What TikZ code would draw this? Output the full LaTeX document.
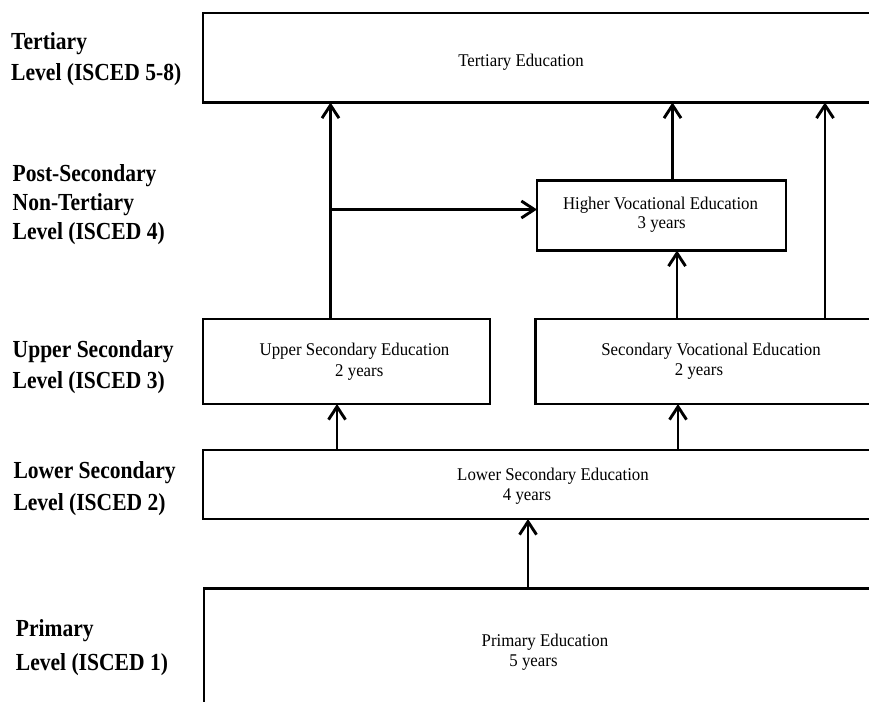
\documentclass[tikz,border=0pt]{standalone}
\usepackage{fontspec}
\setmainfont{Liberation Serif}
\newfontfamily\levelfont{Liberation Serif}[FakeStretch=0.88]
\newfontfamily\boxfont{Liberation Serif}[FakeStretch=0.94]
\usetikzlibrary{arrows.meta}
\begin{document}
\begin{tikzpicture}[x=1pt,y=-1pt,
  box/.style={draw, line width=2.9pt, rectangle, inner sep=0pt, outer sep=0pt},
  conn/.style={line width=2.9pt, -{Straight Barb[length=13pt,width=17pt,line width=2.9pt]}},
  lvl/.style={anchor=base west, inner sep=0pt, font=\levelfont\bfseries\fontsize{24.5}{28}\selectfont},
  txt/.style={anchor=base, inner sep=0pt, font=\boxfont\fontsize{17.9}{21}\selectfont}]
\useasboundingbox (0,0) rectangle (869,701);
\clip (0,0) rectangle (869,701);

% level boxes (the wide ones run off the right edge)
\node[box, minimum width=692pt, minimum height=89.5pt] (tert) at (549,57.75) {};
\node[box, minimum width=249pt, minimum height=70pt]   (hv)   at (661.5,215.5) {};
\node[box, minimum width=287pt, minimum height=85pt]   (use)  at (346.5,361.5) {};
\node[box, minimum width=359.5pt, minimum height=85pt] (sv)   at (715.25,361.5) {};
\node[box, minimum width=692pt, minimum height=69pt]   (lse)  at (549,484.5) {};
\node[box, minimum width=691pt, minimum height=151.5pt] (prim) at (549.5,664.25) {};

% box captions
\node[txt] (tertT)  at (521,66.7)   {Tertiary Education};
\node[txt] (hvT)    at (660.5,209.3) {Higher Vocational Education};
\node[txt] (hvY)    at (661.7,228)  {3 years};
\node[txt] (useT)   at (354.5,355)  {Upper Secondary Education};
\node[txt] (useY)   at (359.3,376)  {2 years};
\node[txt] (svT)    at (711,355)    {Secondary Vocational Education};
\node[txt] (svY)    at (699,375)    {2 years};
\node[txt] (lseT)   at (553,480)    {Lower Secondary Education};
\node[txt] (lseY)   at (527,500)    {4 years};
\node[txt] (primT)  at (545,646)    {Primary Education};
\node[txt] (primY)  at (533.5,666.7) {5 years};

% level labels on the left
\node[lvl] (l8a) at (11,50)    {Tertiary};
\node[lvl] (l8b) at (11,80)    {Level (ISCED 5-8)};
\node[lvl] (l4a) at (12.5,181.7) {Post-Secondary};
\node[lvl] (l4b) at (12.5,210.7) {Non-Tertiary};
\node[lvl] (l4c) at (12.5,239.5) {Level (ISCED 4)};
\node[lvl] (l3a) at (12.5,357.3) {Upper Secondary};
\node[lvl] (l3b) at (12.5,388.3) {Level (ISCED 3)};
\node[lvl] (l2a) at (13.3,478.3) {Lower Secondary};
\node[lvl] (l2b) at (13.3,510)   {Level (ISCED 2)};
\node[lvl] (l1a) at (15.7,636.7) {Primary};
\node[lvl] (l1b) at (15.7,670)   {Level (ISCED 1)};

% x positions of the vertical connectors
\coordinate (xa) at (330.5,0);
\coordinate (xb) at (672.5,0);
\coordinate (xc) at (677,0);
\coordinate (xd) at (825,0);
\coordinate (xe) at (337,0);
\coordinate (xf) at (678,0);
\coordinate (xg) at (528,0);
\coordinate (br) at (330.5,209.5);

\draw[conn] (use.north -| xa) -- (tert.south -| xa);
\draw[conn] (br) -- (hv.west |- br);
\draw[conn] (hv.north -| xb) -- (tert.south -| xb);
\draw[conn] (sv.north -| xc) -- (hv.south -| xc);
\draw[conn] (sv.north -| xd) -- (tert.south -| xd);
\draw[conn] (lse.north -| xe) -- (use.south -| xe);
\draw[conn] (lse.north -| xf) -- (sv.south -| xf);
\draw[conn] (prim.north -| xg) -- (lse.south -| xg);
\end{tikzpicture}
\end{document}
